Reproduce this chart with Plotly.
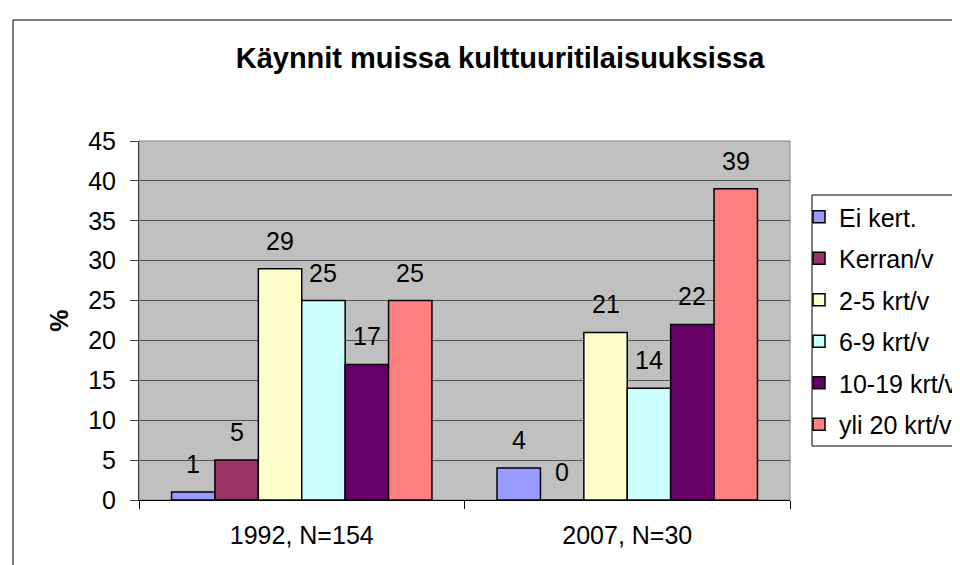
import plotly.graph_objects as go

categories = ["1992, N=154", "2007, N=30"]
series_names = ["Ei kert.", "Kerran/v", "2-5 krt/v", "6-9 krt/v", "10-19 krt/v", "yli 20 krt/v"]
values_ei = [1, 4]
values_kerran = [5, 0]
values_2_5 = [29, 21]
values_6_9 = [25, 14]
values_10_19 = [17, 22]
values_yli20 = [25, 39]
series_values = [values_ei, values_kerran, values_2_5, values_6_9, values_10_19, values_yli20]
colors = ["#9999FF", "#993366", "#FFFFCC", "#CCFFFF", "#660066", "#FF8080"]
y_ticks = [0, 5, 10, 15, 20, 25, 30, 35, 40, 45]

FONT = "Liberation Sans, Arial, sans-serif"
FS = 25
W, H = 960, 565
L, R, T, B = 131, 782, 133, 492
pw, ph = R - L, B - T

fig = go.Figure()
for i, (name, vals, col) in enumerate(zip(series_names, series_values, colors)):
    fig.add_trace(go.Bar(
        x=categories, y=vals, name=name, legendgroup=name,
        marker=dict(color=col, line=dict(color="black", width=1.5)),
    ))

# data labels above bars
cat_px = pw / len(categories)
bar_px = cat_px * 0.8 / len(series_names)
for i, vals in enumerate(series_values):
    for c, v in zip(categories, vals):
        fig.add_annotation(
            x=c, y=v, xref="x", yref="y", text=str(v), showarrow=False,
            xshift=(i - (len(series_names) - 1) / 2) * bar_px, yshift=28,
            yanchor="middle", font=dict(family=FONT, size=FS, color="black"),
        )

def px_x(p):
    return (p - L) / pw

def px_y(p):
    return (B - p) / ph

shapes = [
    # chart border
    dict(type="rect", xref="paper", yref="paper", x0=px_x(5), y0=px_y(575), x1=px_x(975), y1=px_y(12),
         line=dict(color="black", width=1), fillcolor="rgba(0,0,0,0)", layer="above"),
    # plot area border
    dict(type="rect", xref="paper", yref="paper", x0=0, y0=0, x1=1, y1=1,
         line=dict(color="#808080", width=1), fillcolor="rgba(0,0,0,0)", layer="below"),
    # legend box
    dict(type="rect", xref="paper", yref="paper", x0=px_x(804), y0=px_y(438), x1=px_x(975), y1=px_y(187),
         line=dict(color="black", width=1), fillcolor="white", layer="above"),
]

fig.update_layout(
    width=W, height=H,
    margin=dict(l=L, r=W - R, t=T, b=H - B, autoexpand=False),
    paper_bgcolor="white", plot_bgcolor="#C0C0C0",
    font=dict(family=FONT, size=FS, color="black"),
    title=dict(text="Käynnit muissa kulttuuritilaisuuksissa", x=492 / W, xanchor="center",
               y=1 - 50 / H, yanchor="middle",
               font=dict(family=FONT, size=29, color="black", weight="bold")),
    barmode="group", bargap=0.2, bargroupgap=0,
    showlegend=True,
    legend=dict(x=px_x(791), y=px_y(186), xanchor="left", yanchor="top",
                borderwidth=0, bgcolor="rgba(0,0,0,0)",
                font=dict(family=FONT, size=FS, color="black"),
                tracegroupgap=6, traceorder="grouped"),
    shapes=shapes,
)
fig.update_xaxes(
    showgrid=False, showline=True, linecolor="black", linewidth=1,
    ticks="outside", ticklen=8, tickcolor="black", tickson="boundaries",
    ticklabelstandoff=13, tickfont=dict(family=FONT, size=FS, color="black"),
)
fig.update_yaxes(
    range=[0, 45], tickvals=y_ticks, showgrid=True, gridcolor="#555555", gridwidth=1,
    showline=True, linecolor="#404040", linewidth=1, zeroline=False,
    ticks="outside", ticklen=8, tickcolor="#404040", ticklabelstandoff=9,
    tickfont=dict(family=FONT, size=FS, color="black"),
    title=dict(text="%", standoff=12, font=dict(family=FONT, size=FS, color="black", weight="bold")),
)

fig.write_html("out.html")
